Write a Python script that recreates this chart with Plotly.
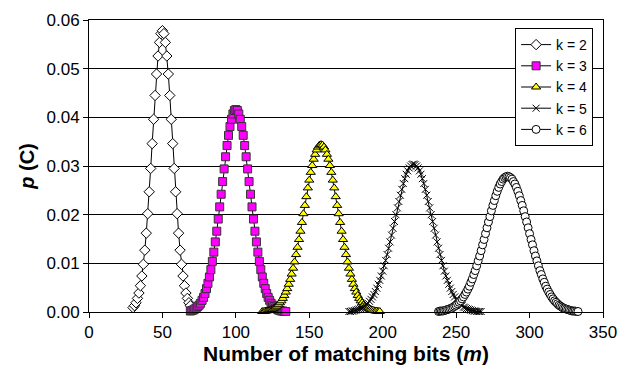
import plotly.graph_objects as go

# ---- data ----
m_k2 = list(range(30, 70))
p_k2 = [0.0009, 0.0013, 0.0019, 0.0028, 0.0039, 0.0054, 0.0074, 0.0098, 0.0127, 0.0162,
        0.0202, 0.0247, 0.0295, 0.0346, 0.0396, 0.0445, 0.0489, 0.0526, 0.0554, 0.0572,
        0.0578, 0.0572, 0.0554, 0.0526, 0.0489, 0.0445, 0.0396, 0.0346, 0.0295, 0.0247,
        0.0202, 0.0162, 0.0127, 0.0098, 0.0074, 0.0054, 0.0039, 0.0028, 0.0019, 0.0013]

m_k3 = list(range(69, 135))
p_k3 = [0.0002, 0.0003, 0.0004, 0.0006, 0.0008, 0.0011, 0.0014, 0.0018, 0.0024, 0.0030,
        0.0038, 0.0048, 0.0059, 0.0072, 0.0087, 0.0104, 0.0123, 0.0144, 0.0166, 0.0191,
        0.0216, 0.0242, 0.0268, 0.0294, 0.0319, 0.0342, 0.0363, 0.0381, 0.0396, 0.0407,
        0.0414, 0.0416, 0.0414, 0.0407, 0.0396, 0.0381, 0.0363, 0.0342, 0.0319, 0.0294,
        0.0268, 0.0242, 0.0216, 0.0191, 0.0166, 0.0144, 0.0123, 0.0104, 0.0087, 0.0072,
        0.0059, 0.0048, 0.0038, 0.0030, 0.0024, 0.0018, 0.0014, 0.0011, 0.0008, 0.0006,
        0.0004, 0.0003, 0.0002, 0.0002, 0.0001, 0.0001]

m_k4 = list(range(118, 199))
p_k4 = [0.0001, 0.0001, 0.0002, 0.0002, 0.0003, 0.0004, 0.0005, 0.0006, 0.0008, 0.0010,
        0.0012, 0.0015, 0.0019, 0.0023, 0.0028, 0.0034, 0.0041, 0.0048, 0.0057, 0.0067,
        0.0078, 0.0090, 0.0103, 0.0118, 0.0133, 0.0149, 0.0166, 0.0184, 0.0202, 0.0219,
        0.0237, 0.0255, 0.0271, 0.0287, 0.0301, 0.0314, 0.0324, 0.0333, 0.0339, 0.0343,
        0.0344,
        0.0343, 0.0339, 0.0333, 0.0324, 0.0314, 0.0301, 0.0287, 0.0271, 0.0255, 0.0237,
        0.0219, 0.0202, 0.0184, 0.0166, 0.0149, 0.0133, 0.0118, 0.0103, 0.0090, 0.0078,
        0.0067, 0.0057, 0.0048, 0.0041, 0.0034, 0.0028, 0.0023, 0.0019, 0.0015, 0.0012,
        0.0010, 0.0008, 0.0006, 0.0005, 0.0004, 0.0003, 0.0002, 0.0002, 0.0001, 0.0001]

m_k5 = list(range(177, 268))
p_k5 = [0.0001, 0.0001, 0.0002, 0.0002, 0.0003, 0.0004, 0.0005, 0.0006, 0.0007, 0.0009,
        0.0010, 0.0013, 0.0015, 0.0018, 0.0022, 0.0026, 0.0031, 0.0036, 0.0042, 0.0049,
        0.0057, 0.0065, 0.0074, 0.0084, 0.0095, 0.0106, 0.0118, 0.0131, 0.0144, 0.0158,
        0.0172, 0.0186, 0.0200, 0.0214, 0.0227, 0.0240, 0.0252, 0.0264, 0.0274, 0.0283,
        0.0290, 0.0296, 0.0300, 0.0303,
        0.0304,
        0.0303, 0.0300, 0.0296, 0.0290, 0.0283, 0.0274, 0.0264, 0.0252, 0.0240, 0.0227,
        0.0214, 0.0200, 0.0186, 0.0172, 0.0158, 0.0144, 0.0131, 0.0118, 0.0106, 0.0095,
        0.0084, 0.0074, 0.0065, 0.0057, 0.0049, 0.0042, 0.0036, 0.0031, 0.0026, 0.0022,
        0.0018, 0.0015, 0.0013, 0.0010, 0.0009, 0.0007, 0.0006, 0.0005, 0.0004, 0.0003,
        0.0002, 0.0002, 0.0001, 0.0001, 0.0001, 0.0001]

m_k6 = list(range(238, 334))
p_k6 = [0.0001, 0.0002, 0.0002, 0.0002, 0.0003, 0.0004, 0.0005, 0.0006, 0.0007, 0.0008,
        0.0010, 0.0012, 0.0014, 0.0017, 0.0020, 0.0023, 0.0027, 0.0031, 0.0036, 0.0041,
        0.0047, 0.0053, 0.0061, 0.0068, 0.0077, 0.0085, 0.0095, 0.0105, 0.0115, 0.0126,
        0.0138, 0.0149, 0.0161, 0.0173, 0.0185, 0.0196, 0.0208, 0.0219, 0.0229, 0.0239,
        0.0248, 0.0256, 0.0263, 0.0268, 0.0273, 0.0276, 0.0278,
        0.0279,
        0.0278, 0.0276, 0.0273, 0.0268, 0.0263, 0.0256, 0.0248, 0.0239, 0.0229, 0.0219,
        0.0208, 0.0196, 0.0185, 0.0173, 0.0161, 0.0149, 0.0138, 0.0126, 0.0115, 0.0105,
        0.0095, 0.0085, 0.0077, 0.0068, 0.0061, 0.0053, 0.0047, 0.0041, 0.0036, 0.0031,
        0.0027, 0.0023, 0.0020, 0.0017, 0.0014, 0.0012, 0.0010, 0.0008, 0.0007, 0.0006,
        0.0005, 0.0004, 0.0003, 0.0002, 0.0002, 0.0002, 0.0001, 0.0001]

series_names = ["k = 2", "k = 3", "k = 4", "k = 5", "k = 6"]

# ---- figure ----
FONT = "Liberation Sans, Arial, sans-serif"
styles = [
    dict(symbol="diamond", size=8, color="white", line=dict(color="black", width=1)),
    dict(symbol="square", size=8, color="#FF00FF", line=dict(color="#333333", width=1)),
    dict(symbol="triangle-up", size=8, color="#FFFF00", line=dict(color="black", width=1)),
    dict(symbol="x-thin-open", size=7, color="black", line=dict(color="black", width=1)),
    dict(symbol="circle", size=8, color="white", line=dict(color="black", width=1)),
]
xs = [m_k2, m_k3, m_k4, m_k5, m_k6]
ys = [p_k2, p_k3, p_k4, p_k5, p_k6]

fig = go.Figure()
for name, x, y, st in zip(series_names, xs, ys, styles):
    fig.add_trace(go.Scatter(
        x=x, y=y, name=name, mode="lines+markers",
        line=dict(color="black", width=1),
        marker=st, cliponaxis=False,
    ))

fig.update_layout(
    width=628, height=370,
    margin=dict(l=81, r=33, t=12, b=66, autoexpand=False),
    paper_bgcolor="white", plot_bgcolor="white",
    font=dict(family=FONT, size=16, color="black"),
    showlegend=True,
    legend=dict(
        x=0.829, y=0.9726, xanchor="left", yanchor="top",
        bgcolor="white", bordercolor="black", borderwidth=1,
        font=dict(family=FONT, size=14, color="black"),
        itemwidth=30, tracegroupgap=0,
    ),
    xaxis=dict(
        range=[0, 350], dtick=50, tick0=0,
        showgrid=False, zeroline=False, automargin=False,
        showline=True, linecolor="black", linewidth=1, mirror=True,
        ticks="outside", ticklen=5, tickcolor="black",
        tickfont=dict(family=FONT, size=17),
        title=dict(text="<b>Number of matching bits (<i>m</i>)</b>",
                   font=dict(family=FONT, size=21), standoff=2),
    ),
    yaxis=dict(
        range=[0, 0.06], dtick=0.01, tick0=0, tickformat=".2f",
        showgrid=True, gridcolor="black", gridwidth=1, zeroline=False, automargin=False,
        showline=True, linecolor="black", linewidth=1, mirror=True,
        ticks="outside", ticklen=5, tickcolor="black",
        tickfont=dict(family=FONT, size=17),
        title=dict(text="<b><i>p</i> (C)</b>",
                   font=dict(family=FONT, size=20), standoff=6),
    ),
)

fig.write_html("out.html")
